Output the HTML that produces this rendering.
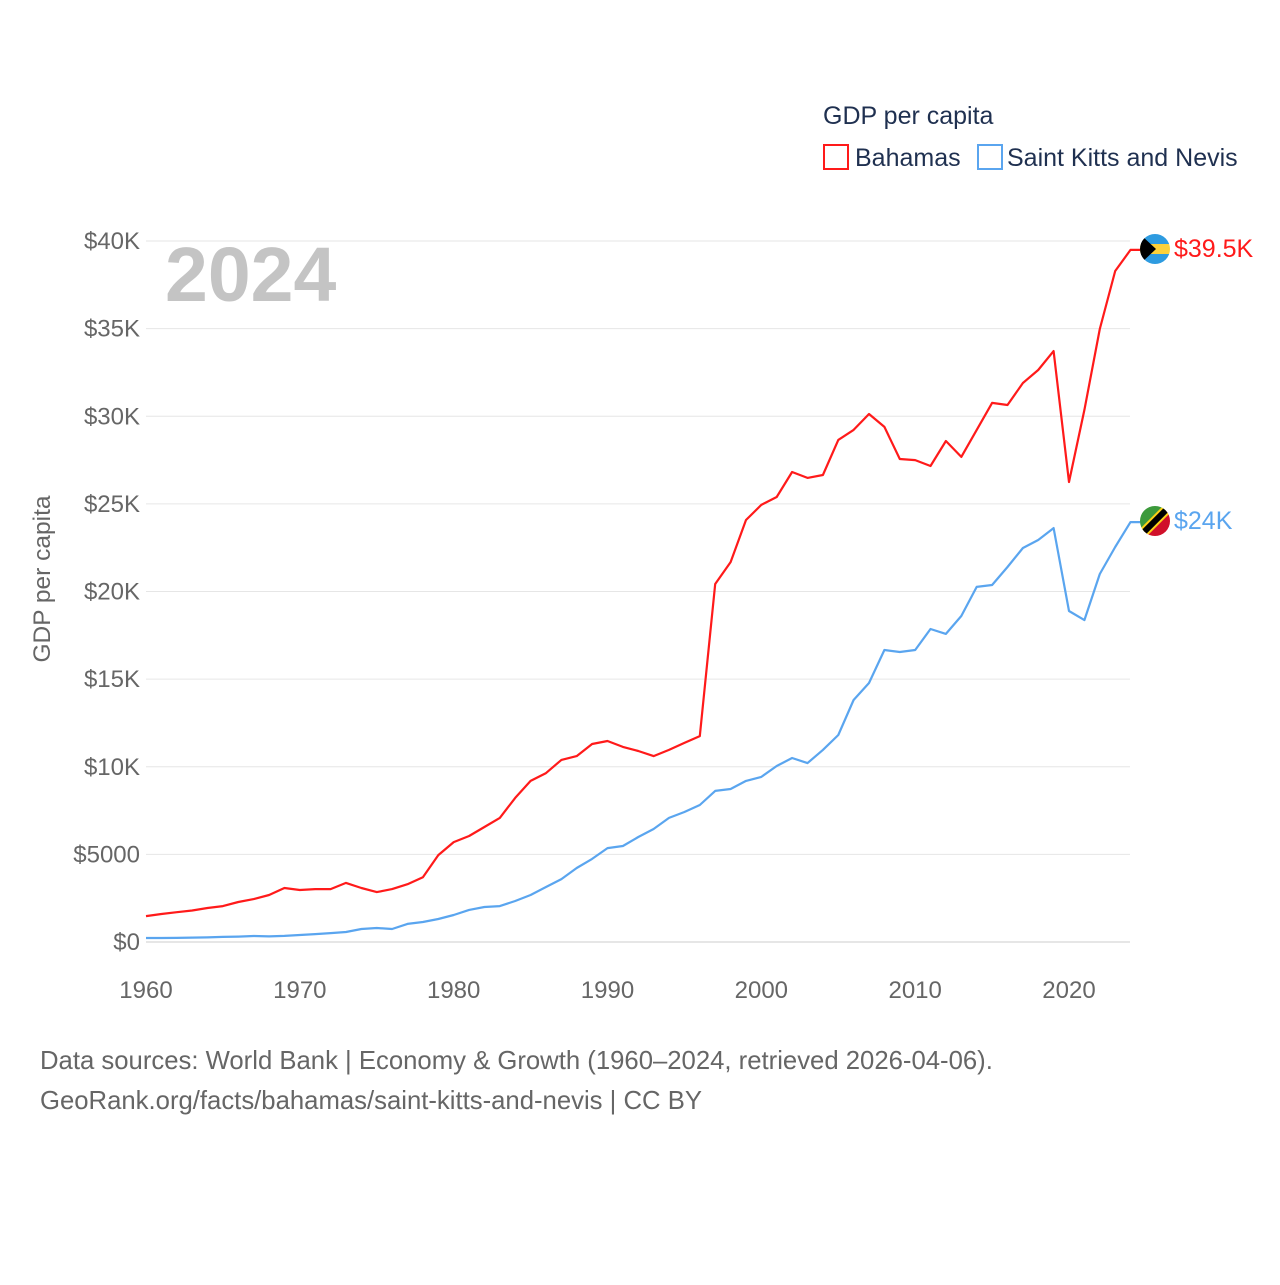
<!DOCTYPE html>
<html><head><meta charset="utf-8"><style>
body{margin:0;background:#fff;font-family:"Liberation Sans",sans-serif}
svg text{font-family:"Liberation Sans",sans-serif}
</style></head><body>
<svg id="chart" width="1280" height="1280">
<text x="823" y="124" font-size="25" fill="#1f3050">GDP per capita</text>
<g><rect x="824" y="145" width="24" height="24" fill="none" stroke="#ff1a1a" stroke-width="2"/><text x="855" y="166" font-size="25" fill="#1f3050">Bahamas</text></g>
<g><rect x="978" y="145" width="24" height="24" fill="none" stroke="#5aa5ef" stroke-width="2"/><text x="1007" y="166" font-size="25" fill="#1f3050">Saint Kitts and Nevis</text></g>
<text x="165" y="301" font-size="77" font-weight="bold" fill="#c4c4c4">2024</text>
<text transform="translate(50,579) rotate(-90)" text-anchor="middle" font-size="24.5" fill="#666">GDP per capita</text>
<g id="grid"></g><g id="lines"></g>
<g><clipPath id="c1"><circle cx="1155" cy="249" r="15"/></clipPath><g clip-path="url(#c1)"><rect x="1140" y="234" width="30" height="10" fill="#2e9be0"/><rect x="1140" y="244" width="30" height="10" fill="#fdd13a"/><rect x="1140" y="254" width="30" height="10" fill="#2e9be0"/><polygon points="1140,234 1156,249 1140,264" fill="#000"/></g></g>
<g><clipPath id="c2"><circle cx="1155" cy="521" r="15"/></clipPath><g clip-path="url(#c2)"><polygon points="1140,506 1170,506 1140,536" fill="#3c9a3c"/><polygon points="1170,506 1170,536 1140,536" fill="#d0102a"/><line x1="1138" y1="538" x2="1172" y2="504" stroke="#fcd116" stroke-width="10"/><line x1="1138" y1="538" x2="1172" y2="504" stroke="#000" stroke-width="6"/></g></g>
<text x="1174" y="257" font-size="25" fill="#ff1a1a">$39.5K</text>
<text x="1174" y="529" font-size="25" fill="#5aa5ef">$24K</text>
<text x="40" y="1069" font-size="25.7" fill="#666">Data sources: World Bank | Economy &amp; Growth (1960–2024, retrieved 2026-04-06).</text>
<text x="40" y="1109" font-size="25.7" fill="#666">GeoRank.org/facts/bahamas/saint-kitts-and-nevis | CC BY</text>
</svg>
<script>
const years=[];for(let y=1960;y<=2024;y++)years.push(y);
const bahamas=[1480,1600,1700,1800,1940,2050,2280,2450,2680,3080,2970,3020,3020,3370,3080,2850,3020,3300,3700,4960,5700,6050,6560,7080,8220,9190,9640,10390,10610,11300,11470,11130,10900,10610,10960,11360,11750,20430,21680,24080,24940,25390,26820,26480,26650,28650,29220,30130,29390,27560,27500,27160,28590,27680,29220,30760,30640,31900,32640,33720,26250,30360,34980,38290,39490];
const skn=[230,230,235,250,265,290,310,340,320,350,400,450,510,570,740,800,740,1030,1140,1310,1540,1830,2000,2050,2340,2680,3140,3590,4220,4740,5360,5480,5990,6450,7080,7420,7820,8620,8730,9190,9420,10040,10500,10210,10960,11810,13810,14780,16660,16550,16660,17860,17580,18600,20260,20370,21400,22480,22940,23620,18890,18370,21000,22540,23960];
const yTicks=[0,5000,10000,15000,20000,25000,30000,35000,40000];
const yTickLabels=["$0","$5000","$10K","$15K","$20K","$25K","$30K","$35K","$40K"];
const xTicks=[1960,1970,1980,1990,2000,2010,2020];
const NS="http://www.w3.org/2000/svg";
const xs=v=>146+(v-1960)*(1069-146)/60;
const ys=v=>942-v*701/40000;
const grid=document.getElementById('grid'),lines=document.getElementById('lines');
function mk(tag,attrs,parent){const e=document.createElementNS(NS,tag);for(const k in attrs)e.setAttribute(k,attrs[k]);parent.appendChild(e);return e;}
yTicks.forEach((t,i)=>{
 const l=mk('line',{x1:146,x2:1130,y1:ys(t),y2:ys(t),stroke:t===0?'#ccc':'#e6e6e6','stroke-width':1},grid);
 
 
 const tx=mk('text',{x:140,y:ys(t)+8,'text-anchor':'end','font-size':24,fill:'#666'},grid);
 tx.textContent=yTickLabels[i];
 
 
});
xTicks.forEach(t=>{
 const tx=mk('text',{x:xs(t),y:998,'text-anchor':'middle','font-size':24,fill:'#666'},grid);
 tx.textContent=t;
 
 
});
function line(data,color,name){
 let d=data.map((v,i)=>(i?'L':'M')+xs(years[i]).toFixed(1)+','+ys(v).toFixed(1)).join('');
 d+='L'+(xs(years[years.length-1])+10)+','+ys(data[data.length-1]).toFixed(1);
 const p=mk('path',{d:d,fill:'none',stroke:color,'stroke-width':2.2,'stroke-linejoin':'round'},lines);
 
 
}
line(skn,'#5aa5ef','skn-line');
line(bahamas,'#ff1a1a','bahamas-line');
</script>
</body></html>
